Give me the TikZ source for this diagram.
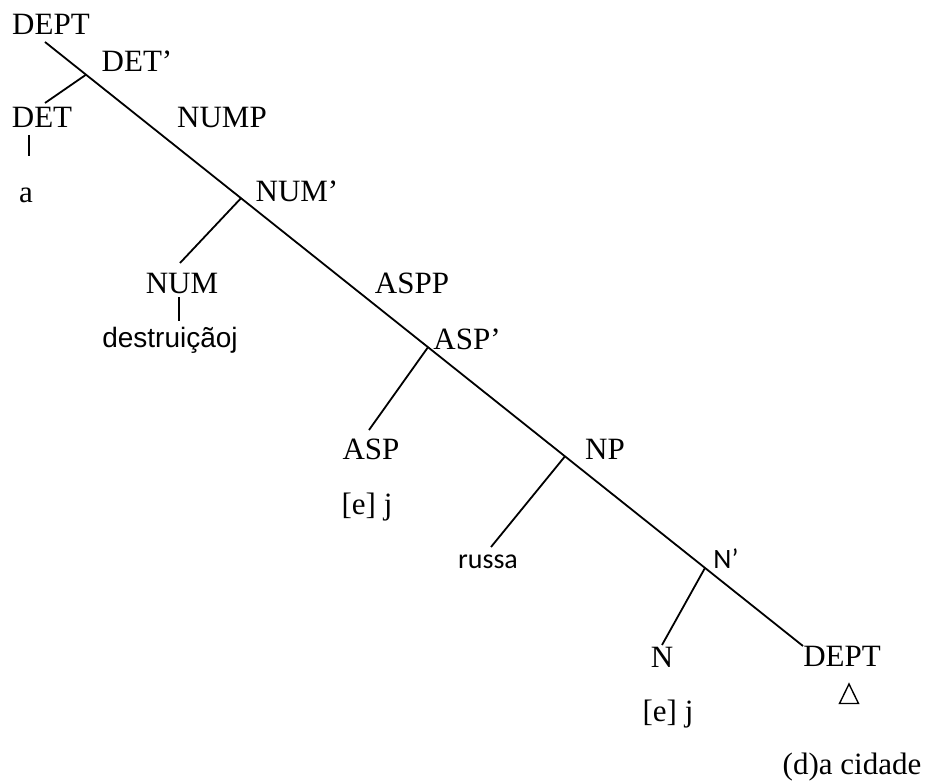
\documentclass[tikz,border=0pt]{standalone}
\usepackage{fontspec}
\setmainfont{Liberation Serif}
\newfontfamily\arialfam{Liberation Sans}
\newfontfamily\calibfam{Carlito}
\begin{document}
\begin{tikzpicture}[x=1pt,y=-1pt,
  lbl/.style={anchor=base,inner sep=0pt,font=\fontsize{31}{36}\selectfont},
  lblsans/.style={anchor=base,inner sep=0pt,font=\arialfam\fontsize{28}{34}\selectfont},
  lblcal/.style={anchor=base,inner sep=0pt,font=\calibfam\fontsize{28}{34}\selectfont},
  edge/.style={line width=1.8pt,line cap=butt}]
\useasboundingbox (0,0) rectangle (929,781);

% labels
\node[lbl] (dept) at (51,35) {DEPT};
\node[lbl] (detbar) at (137,72) {DET’};
\node[lbl] (det) at (42,128) {DET};
\node[lbl] (a) at (26,202) {a};
\node[lbl] (nump) at (222,128) {NUMP};
\node[lbl] (numbar) at (297,201) {NUM’};
\node[lbl] (num) at (182,293) {NUM};
\node[lblsans] (destr) at (170,347) {destruiçãoj};
\node[lbl] (aspp) at (412,293) {ASPP};
\node[lbl] (aspbar) at (467,349) {ASP’};
\node[lbl] (asp) at (371,459) {ASP};
\node[lbl] (eja) at (367,514) {[e] j};
\node[lbl] (np) at (605,459) {NP};
\node[lblcal] (russa) at (488,568) {russa};
\node[lblcal] (nbar) at (726,568) {N’};
\node[lbl] (n) at (662,667) {N};
\node[lbl] (ejb) at (668,721) {[e] j};
\node[lbl] (deptb) at (842,666) {DEPT};
\node[lbl] (cidade) at (852,774) {(d)a cidade};

% spine and branch points
\coordinate (spinetop) at (45,42);
\coordinate (spinebot) at (803,646);
\coordinate (b1) at (86,74.7);
\coordinate (b2) at (241,198.2);
\coordinate (b3) at (428,347.2);
\coordinate (b4) at (565,456.3);
\coordinate (b5) at (705,567.9);

% ends of the left branches
\coordinate (detend) at (45,103);
\coordinate (numend) at (180,263);
\coordinate (aspend) at (369,430);
\coordinate (russaend) at (491,547);
\coordinate (nend) at (662,645);

\draw[edge] (spinetop) -- (spinebot);
\draw[edge] (b1) -- (detend);
\draw[edge] (b2) -- (numend);
\draw[edge] (b3) -- (aspend);
\draw[edge] (b4) -- (russaend);
\draw[edge] (b5) -- (nend);

% short vertical bars
\coordinate (detbot) at (29,135);
\coordinate (atop) at (29,156);
\draw[edge] (detbot) -- (atop);
\coordinate (numbot) at (179,297);
\coordinate (destrtop) at (179,321);
\draw[edge] (numbot) -- (destrtop);

% triangle under DEPT
\draw[line width=1.4pt,line join=miter] (849,684) -- (839.5,703.5) -- (858.5,703.5) -- cycle;
\end{tikzpicture}
\end{document}
